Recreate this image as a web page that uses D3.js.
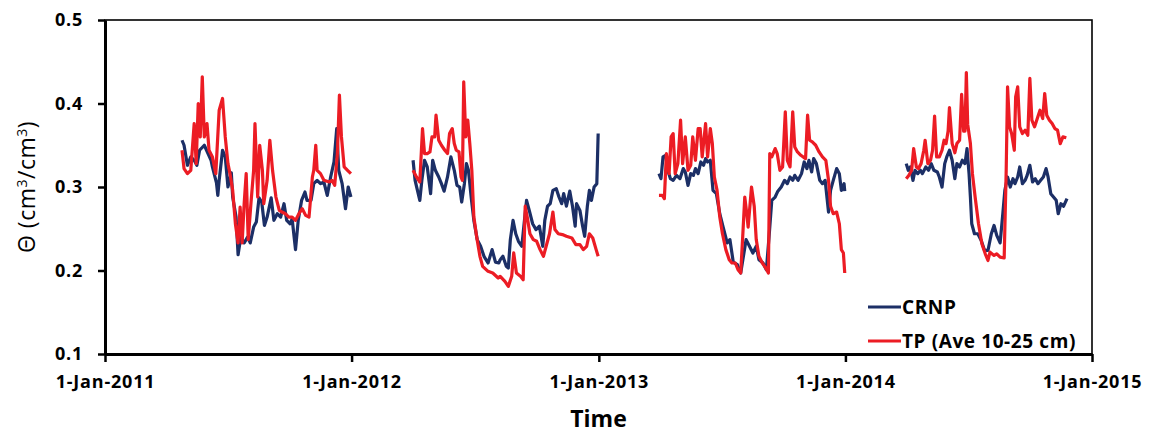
<!DOCTYPE html>
<html>
<head>
<meta charset="utf-8">
<script src="https://cdn.jsdelivr.net/npm/d3@7"></script>
<style>
  html, body { margin: 0; padding: 0; background: #fff; }
  svg { display: block; }
  text { font-family: "Open Sans", "DejaVu Sans", sans-serif; }
</style>
</head>
<body>
<svg id="chart" width="1149" height="434"></svg>
<script>
// Soil moisture series: [day offset from 1 Jan of the year, value in cm3/cm3]
const crnp2011 = [[114,0.356],[117,0.350],[122,0.326],[127,0.336],[132,0.332],[136,0.326],[140,0.344],[147,0.350],[152,0.341],[157,0.332],[159,0.324],[165,0.305],[167,0.290],[169,0.308],[174,0.344],[178,0.336],[182,0.300],[187,0.317],[189,0.288],[194,0.264],[197,0.219],[201,0.240],[206,0.233],[211,0.240],[215,0.233],[220,0.252],[224,0.258],[228,0.287],[232,0.282],[236,0.254],[240,0.264],[246,0.287],[250,0.260],[255,0.268],[260,0.264],[265,0.280],[269,0.260],[274,0.256],[277,0.262],[282,0.225],[286,0.260],[291,0.284],[296,0.294],[299,0.284],[305,0.284],[309,0.304],[314,0.308],[319,0.304],[324,0.306],[329,0.290],[334,0.312],[339,0.330],[343,0.370],[346,0.320],[351,0.304],[356,0.274],[360,0.300],[364,0.288]];
const tp2011 = [[114,0.344],[117,0.322],[122,0.316],[127,0.320],[132,0.376],[135,0.328],[138,0.400],[141,0.360],[144,0.432],[147,0.360],[151,0.376],[154,0.344],[159,0.336],[164,0.316],[169,0.392],[174,0.406],[178,0.360],[182,0.328],[185,0.316],[189,0.296],[193,0.256],[197,0.233],[200,0.276],[203,0.233],[206,0.280],[209,0.316],[212,0.237],[216,0.280],[220,0.320],[222,0.376],[226,0.288],[229,0.350],[233,0.320],[235,0.280],[240,0.308],[244,0.356],[248,0.320],[253,0.288],[258,0.272],[262,0.270],[267,0.268],[272,0.264],[277,0.264],[282,0.260],[287,0.268],[292,0.274],[297,0.266],[302,0.264],[307,0.312],[309,0.320],[312,0.350],[314,0.320],[319,0.316],[324,0.308],[332,0.306],[336,0.308],[340,0.302],[344,0.340],[347,0.410],[350,0.360],[354,0.324],[359,0.320],[364,0.316]];

const crnp2012 = [[91,0.332],[94,0.308],[101,0.284],[104,0.308],[108,0.332],[112,0.324],[117,0.292],[120,0.332],[124,0.320],[129,0.312],[133,0.304],[137,0.295],[142,0.312],[147,0.336],[152,0.320],[156,0.302],[160,0.300],[163,0.282],[167,0.304],[170,0.328],[173,0.320],[177,0.288],[181,0.260],[186,0.237],[191,0.229],[196,0.217],[202,0.209],[208,0.225],[213,0.210],[218,0.209],[220,0.213],[224,0.217],[229,0.205],[232,0.203],[235,0.237],[239,0.260],[243,0.244],[247,0.235],[252,0.229],[255,0.253],[259,0.284],[263,0.272],[268,0.256],[273,0.249],[278,0.253],[283,0.229],[286,0.260],[290,0.277],[294,0.280],[298,0.296],[303,0.298],[307,0.288],[311,0.280],[314,0.292],[318,0.277],[323,0.295],[327,0.277],[331,0.253],[333,0.280],[338,0.272],[342,0.253],[345,0.241],[349,0.277],[352,0.296],[355,0.284],[359,0.300],[363,0.304],[365,0.364]];
const tp2012 = [[91,0.320],[96,0.312],[101,0.306],[105,0.370],[108,0.340],[112,0.340],[116,0.342],[119,0.360],[123,0.360],[125,0.386],[129,0.356],[133,0.350],[138,0.344],[142,0.340],[145,0.364],[149,0.370],[152,0.352],[155,0.344],[159,0.342],[162,0.312],[164,0.308],[166,0.426],[169,0.360],[172,0.380],[175,0.352],[178,0.320],[181,0.264],[185,0.241],[190,0.217],[194,0.205],[202,0.199],[209,0.197],[217,0.191],[220,0.193],[227,0.187],[232,0.181],[237,0.193],[240,0.221],[244,0.197],[250,0.193],[254,0.189],[257,0.277],[260,0.264],[264,0.244],[269,0.237],[274,0.235],[279,0.225],[284,0.217],[288,0.229],[293,0.244],[298,0.270],[301,0.249],[306,0.244],[312,0.243],[318,0.241],[326,0.239],[332,0.231],[338,0.231],[343,0.225],[348,0.229],[352,0.244],[357,0.239],[362,0.225],[365,0.217]];

const crnp2013 = [[89,0.316],[92,0.310],[95,0.336],[99,0.338],[102,0.320],[106,0.310],[110,0.308],[115,0.314],[120,0.310],[125,0.322],[128,0.318],[132,0.302],[136,0.316],[140,0.314],[143,0.322],[147,0.316],[151,0.330],[155,0.326],[158,0.334],[161,0.330],[165,0.332],[169,0.296],[174,0.292],[179,0.268],[184,0.252],[190,0.233],[194,0.237],[199,0.210],[205,0.207],[210,0.197],[214,0.217],[218,0.237],[223,0.229],[228,0.221],[233,0.229],[237,0.213],[243,0.209],[248,0.201],[252,0.241],[256,0.284],[261,0.288],[265,0.295],[270,0.300],[275,0.308],[279,0.304],[283,0.312],[287,0.308],[290,0.314],[295,0.308],[300,0.316],[304,0.330],[308,0.322],[311,0.332],[315,0.318],[318,0.334],[322,0.328],[327,0.308],[331,0.304],[335,0.308],[340,0.270],[343,0.296],[347,0.308],[352,0.322],[356,0.316],[359,0.296],[363,0.304],[364,0.295]];
const tp2013 = [[89,0.290],[94,0.290],[97,0.286],[100,0.340],[104,0.316],[107,0.360],[110,0.364],[113,0.316],[117,0.328],[121,0.380],[124,0.328],[128,0.360],[132,0.320],[136,0.326],[139,0.360],[143,0.332],[147,0.370],[150,0.370],[153,0.336],[158,0.376],[161,0.336],[165,0.370],[168,0.352],[171,0.312],[175,0.296],[179,0.264],[183,0.244],[188,0.225],[193,0.213],[197,0.209],[202,0.209],[206,0.201],[210,0.197],[213,0.241],[216,0.288],[219,0.268],[221,0.252],[226,0.300],[230,0.277],[233,0.237],[237,0.217],[242,0.209],[247,0.203],[251,0.197],[253,0.340],[256,0.336],[261,0.346],[264,0.340],[268,0.320],[272,0.324],[276,0.390],[279,0.332],[283,0.324],[287,0.390],[290,0.348],[294,0.342],[299,0.338],[306,0.334],[309,0.386],[312,0.356],[316,0.354],[321,0.350],[326,0.342],[331,0.336],[336,0.332],[340,0.308],[343,0.277],[347,0.268],[352,0.270],[356,0.256],[359,0.225],[362,0.221],[364,0.197]];

const crnp2014 = [[90,0.328],[93,0.320],[96,0.324],[100,0.308],[103,0.320],[107,0.316],[111,0.320],[114,0.316],[119,0.324],[123,0.320],[127,0.328],[131,0.320],[136,0.318],[139,0.312],[143,0.300],[147,0.328],[150,0.336],[154,0.344],[158,0.332],[162,0.310],[165,0.328],[169,0.324],[173,0.332],[177,0.328],[180,0.346],[183,0.316],[185,0.288],[187,0.256],[191,0.244],[196,0.244],[201,0.236],[206,0.224],[211,0.224],[216,0.244],[220,0.254],[224,0.242],[229,0.233],[233,0.268],[236,0.296],[240,0.312],[244,0.300],[248,0.310],[251,0.304],[255,0.312],[258,0.324],[262,0.304],[266,0.308],[269,0.314],[273,0.326],[277,0.306],[281,0.310],[285,0.304],[289,0.308],[293,0.312],[297,0.322],[300,0.312],[304,0.292],[308,0.288],[312,0.284],[315,0.268],[319,0.280],[323,0.277],[328,0.286]];
const tp2014 = [[90,0.310],[94,0.314],[98,0.320],[101,0.346],[105,0.324],[108,0.322],[112,0.328],[116,0.344],[118,0.356],[122,0.328],[126,0.332],[129,0.344],[132,0.385],[135,0.336],[139,0.336],[143,0.344],[146,0.356],[149,0.352],[152,0.367],[154,0.395],[158,0.352],[162,0.341],[165,0.352],[169,0.356],[172,0.411],[175,0.367],[177,0.367],[179,0.437],[181,0.375],[185,0.352],[188,0.316],[192,0.288],[197,0.256],[202,0.232],[207,0.220],[211,0.212],[214,0.222],[220,0.218],[224,0.220],[229,0.216],[235,0.215],[238,0.320],[240,0.420],[243,0.372],[246,0.364],[250,0.344],[252,0.408],[255,0.420],[258,0.372],[262,0.364],[266,0.368],[270,0.362],[273,0.430],[276,0.380],[280,0.372],[284,0.382],[288,0.392],[292,0.382],[295,0.412],[298,0.386],[302,0.380],[306,0.376],[310,0.370],[314,0.368],[318,0.352],[322,0.360],[327,0.359]];

const years = [2011, 2012, 2013, 2014];
const crnpSegments = [crnp2011, crnp2012, crnp2013, crnp2014];
const tpSegments = [tp2011, tp2012, tp2013, tp2014];

const xTickDates = [Date.UTC(2011,0,1), Date.UTC(2012,0,1), Date.UTC(2013,0,1), Date.UTC(2014,0,1), Date.UTC(2015,0,1)];
const xTickLabels = ["1-Jan-2011", "1-Jan-2012", "1-Jan-2013", "1-Jan-2014", "1-Jan-2015"];
const yTicks = [0.1, 0.2, 0.3, 0.4, 0.5];

const seriesNames = ["CRNP", "TP (Ave 10-25 cm)"];
const seriesColors = ["#1c2f66", "#ec1c24"];

const margin = { left: 105, right: 57, top: 20, bottom: 80 };
const W = 1149, H = 434;
const svg = d3.select("#chart");

const x = d3.scaleUtc()
  .domain([new Date(xTickDates[0]), new Date(xTickDates[4])])
  .range([margin.left, W - margin.right]);
const y = d3.scaleLinear().domain([0.1, 0.5]).range([H - margin.bottom, margin.top]);

// plot frame
svg.append("rect")
  .attr("x", x.range()[0]).attr("y", y.range()[1])
  .attr("width", x.range()[1] - x.range()[0])
  .attr("height", y.range()[0] - y.range()[1])
  .attr("fill", "none").attr("stroke", "#000").attr("stroke-width", 1.6);

const toPoints = (seg, year) => seg.map(([d, v]) => ({ date: new Date(Date.UTC(year, 0, 1) + d * 86400000), v }));
const line = d3.line().x(p => x(p.date)).y(p => y(p.v));

const lines = svg.append("g").attr("fill", "none").attr("stroke-width", 3.2).attr("stroke-linejoin", "round");
[crnpSegments, tpSegments].forEach((segs, i) => {
  segs.forEach((seg, k) => {
    lines.append("path")
      .attr("d", line(toPoints(seg, years[k])))
      .attr("stroke", seriesColors[i]);
  });
});

// axes
const xAxis = d3.axisBottom(x)
  .tickValues(xTickDates.map(t => new Date(t)))
  .tickFormat((d, i) => xTickLabels[i])
  .tickSizeInner(8).tickSizeOuter(0).tickPadding(13);
const gx = svg.append("g").attr("transform", `translate(0,${y.range()[0]})`).call(xAxis);

const yAxis = d3.axisLeft(y).tickValues(yTicks).tickFormat(d3.format(".1f"))
  .tickSizeInner(7).tickSizeOuter(0).tickPadding(15);
const gy = svg.append("g").attr("transform", `translate(${x.range()[0]},0)`).call(yAxis);

[gx, gy].forEach(g => {
  g.select(".domain").attr("stroke", "#000").attr("stroke-width", 3);
  g.selectAll(".tick line").attr("stroke", "#000").attr("stroke-width", 2.5);
  g.selectAll(".tick text").attr("fill", "#000")
    .style("font-size", "18px").style("font-weight", 700).style("letter-spacing", "0.8px");
});

// axis titles
svg.append("text")
  .attr("x", (x.range()[0] + x.range()[1]) / 2).attr("y", 427)
  .attr("text-anchor", "middle")
  .style("font-size", "23px").style("font-weight", 700)
  .text("Time");

const yt = svg.append("text")
  .attr("transform", `translate(35,${(y.range()[0] + y.range()[1]) / 2}) rotate(-90)`)
  .attr("text-anchor", "middle")
  .style("font-size", "23px").style("letter-spacing", "0.5px");
yt.append("tspan").text("Θ (cm");
yt.append("tspan").attr("dy", -8).style("font-size", "14px").text("3");
yt.append("tspan").attr("dy", 8).text("/cm");
yt.append("tspan").attr("dy", -8).style("font-size", "14px").text("3");
yt.append("tspan").attr("dy", 8).text(")");

// legend
const lg = svg.append("g").attr("transform", "translate(868,307)");
seriesNames.forEach((name, i) => {
  const row = lg.append("g").attr("transform", `translate(0,${i * 34})`);
  row.append("line").attr("x1", 0).attr("x2", 33).attr("y1", 0).attr("y2", 0)
    .attr("stroke", seriesColors[i]).attr("stroke-width", 3.2);
  row.append("text").attr("x", 34).attr("y", 0).attr("dy", "0.35em")
    .style("font-size", "19px").style("font-weight", 700).style("letter-spacing", "0.6px").text(name);
});
</script>
</body>
</html>
